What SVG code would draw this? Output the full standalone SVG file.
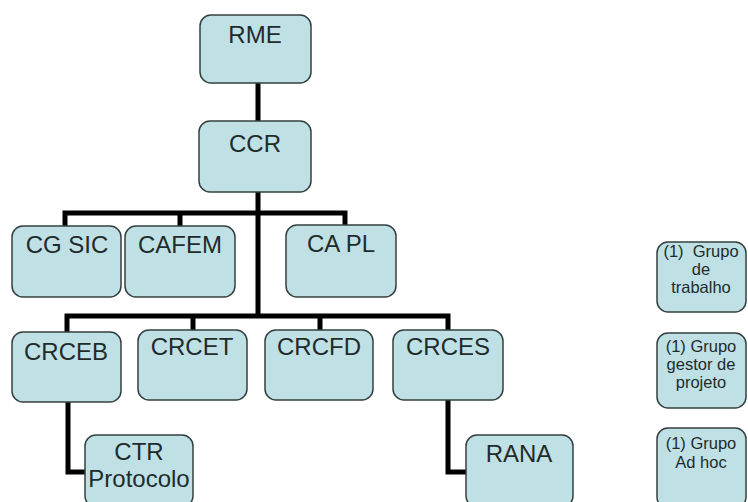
<svg xmlns="http://www.w3.org/2000/svg" width="748" height="502" viewBox="0 0 748 502">
<style>
.box{fill:#bfe1e5;stroke:#34403f;stroke-width:1.5}
.t{font-family:"Liberation Sans",Arial,sans-serif;font-size:24px;fill:#1f2b2b;text-anchor:middle}
.s{font-family:"Liberation Sans",Arial,sans-serif;font-size:16.5px;fill:#1f2b2b;text-anchor:middle}
.c{fill:none;stroke:#000;stroke-width:5;stroke-linejoin:miter}
</style>
<rect width="748" height="502" fill="#fff"/>
<g id="connectors">
<path class="c" d="M258,83V121"/>
<path class="c" d="M258,192V318"/>
<path class="c" d="M65,226V213H345V225"/>
<path class="c" d="M180,213V226"/>
<path class="c" d="M67,332V316H448V330"/>
<path class="c" d="M193,316V330"/>
<path class="c" d="M320,316V330"/>
<path class="c" d="M68,402V472H86"/>
<path class="c" d="M448,400V472H467"/>
</g>
<g id="RME"><rect class="box" x="200" y="15" width="111" height="68" rx="11"/><text class="t" x="255" y="43">RME</text></g>
<g id="CCR"><rect class="box" x="199" y="121" width="112" height="71" rx="11"/><text class="t" x="255" y="152">CCR</text></g>
<g id="CGSIC"><rect class="box" x="12" y="226" width="109" height="71" rx="11"/><text class="t" x="67" y="253">CG SIC</text></g>
<g id="CAFEM"><rect class="box" x="125" y="226" width="110" height="71" rx="11"/><text class="t" x="180" y="253">CAFEM</text></g>
<g id="CAPL"><rect class="box" x="286" y="225" width="110" height="72" rx="11"/><text class="t" x="341" y="252">CA PL</text></g>
<g id="CRCEB"><rect class="box" x="12" y="332" width="109" height="70" rx="11"/><text class="t" x="66" y="360">CRCEB</text></g>
<g id="CRCET"><rect class="box" x="138" y="330" width="109" height="70" rx="11"/><text class="t" x="192" y="355">CRCET</text></g>
<g id="CRCFD"><rect class="box" x="265" y="330" width="108" height="70" rx="11"/><text class="t" x="319" y="355">CRCFD</text></g>
<g id="CRCES"><rect class="box" x="393" y="330" width="110" height="70" rx="11"/><text class="t" x="448" y="355">CRCES</text></g>
<g id="CTR"><rect class="box" x="85" y="435" width="108" height="72" rx="11"/><text class="t" x="139" y="460">CTR</text><text class="t" x="139" y="487">Protocolo</text></g>
<g id="RANA"><rect class="box" x="466" y="435" width="107" height="72" rx="11"/><text class="t" x="519" y="462">RANA</text></g>
<g id="G1"><rect class="box" x="657" y="242" width="89" height="70" rx="11"/><text class="s" x="701" y="257" xml:space="preserve">(1)  Grupo</text><text class="s" x="701" y="275">de</text><text class="s" x="701" y="293">trabalho</text></g>
<g id="G2"><rect class="box" x="657" y="333" width="89" height="75" rx="11"/><text class="s" x="701" y="352">(1) Grupo</text><text class="s" x="701" y="370">gestor de</text><text class="s" x="701" y="388">projeto</text></g>
<g id="G3"><rect class="box" x="657" y="428" width="89" height="80" rx="11"/><text class="s" x="701" y="449">(1) Grupo</text><text class="s" x="701" y="468">Ad hoc</text></g>
</svg>
